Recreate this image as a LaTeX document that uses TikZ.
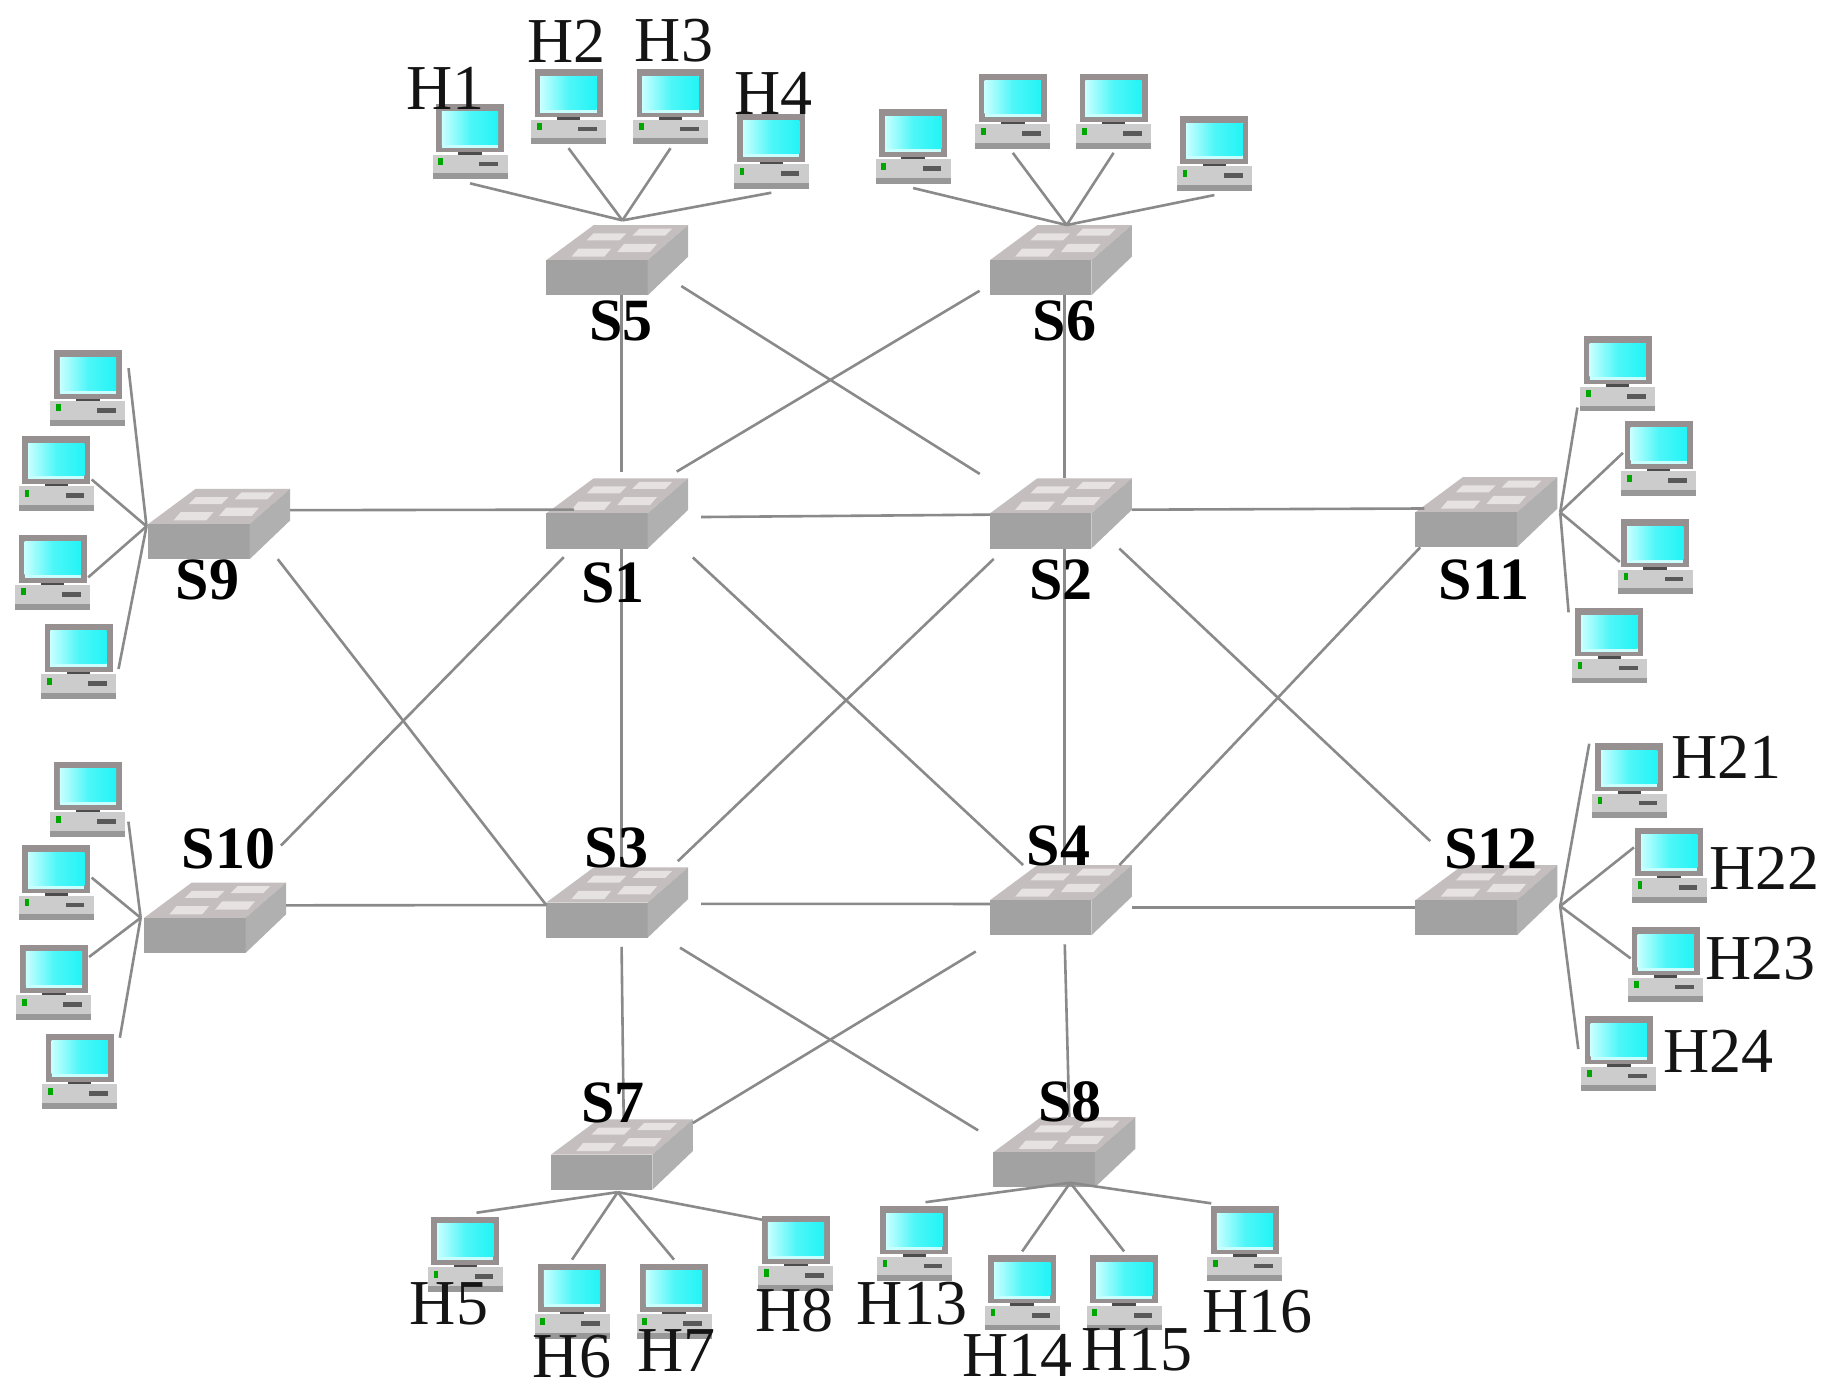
\documentclass[tikz,border=0pt]{standalone}
\usepackage{fontspec}
\setmainfont{Liberation Serif}
\definecolor{swfront}{HTML}{A2A2A2}
\definecolor{swside}{HTML}{B0B0B0}
\definecolor{swtop}{HTML}{C4BEBE}
\definecolor{swpatch}{HTML}{E6E2E2}
\definecolor{hframe}{HTML}{969090}
\definecolor{hbase}{HTML}{CCCCCC}
\definecolor{hshadow}{HTML}{989898}
\definecolor{hscreen}{HTML}{22F4F6}
\definecolor{hlight}{HTML}{C8FFFF}
\definecolor{linkc}{HTML}{8A8A8A}
\tikzset{
  linkline/.style={draw=linkc,line width=2.6pt},
  sidelink/.style={linkline,shorten >=-8pt},
  hostbox/.style={minimum width=64pt*1.1722,minimum height=64pt*1.1722,inner sep=0pt,outer sep=4pt},
  switchbox/.style={minimum width=121pt*1.1722,minimum height=60pt*1.1722,inner sep=0pt,outer sep=0pt},
  hostlabel/.style={inner sep=0pt,text=black!92,font=\fontsize{64}{64}\selectfont},
  switchlabel/.style={inner sep=0pt,text=black,font=\fontsize{60}{60}\selectfont\bfseries},
}
\newcommand{\hostat}[3]{%
  \node[hostbox] (#1) at (#2,#3) {};
  \begin{scope}[shift={(#2,#3)}]
    \fill[hframe] (-29,-32) rectangle (29,9);
    \fill[hlight] (-24,-26) rectangle (24,5);
    \shade[left color=hlight,right color=hscreen,middle color=hscreen!80!white] (-24,-26) rectangle (24,2);
    \fill[black!70] (-10,9) rectangle (10,12);
    \fill[hbase] (-32,11) rectangle (32,32);
    \fill[hshadow] (-32,27) rectangle (32,32);
    \fill[green!65!black] (-27,14) rectangle (-23,20);
    \fill[black!65] (8,17) rectangle (24,21);
  \end{scope}}
\newcommand{\switchat}[3]{%
  \node[switchbox] (#1) at (#2,#3) {};
  \begin{scope}[shift={(#2,#3)}]
    \fill[swtop] (-60.5,0) -- (-20,-30) -- (60.5,-30) -- (26,0) -- cycle;
    \fill[swfront] (-60.5,0) rectangle (26,30);
    \fill[swside] (26,0) -- (60.5,-30) -- (60.5,-3) -- (26,30) -- cycle;
    \fill[swpatch] (-39,-3) -- (-33,-10) -- (-5,-10) -- (-11,-3) -- cycle;
    \fill[swpatch] (0,-7) -- (6,-14) -- (34,-14) -- (28,-7) -- cycle;
    \fill[swpatch] (-26,-17) -- (-20,-23) -- (8,-23) -- (2,-17) -- cycle;
    \fill[swpatch] (13,-21) -- (19,-27) -- (47,-27) -- (41,-21) -- cycle;
  \end{scope}}
\newcommand{\swlink}[6]{%
  \draw[linkline,shorten <=#3pt,shorten >=#6pt] (#1.#2) -- (#4.#5);}
\begin{document}
\begin{tikzpicture}[x=1.1722pt,y=-1.1722pt]
\useasboundingbox (0,0) rectangle (1568,1193);
\fill[white] (0,0) rectangle (1568,1193);
% switches
\switchat{S5}{526.5}{222}
\switchat{S6}{905}{222}
\switchat{S1}{526.5}{438}
\switchat{S2}{905}{438}
\switchat{S3}{526.5}{770}
\switchat{S4}{905}{768}
\switchat{S9}{187}{447}
\switchat{S10}{183.5}{783}
\switchat{S11}{1268}{437}
\switchat{S12}{1268}{768}
\switchat{S7}{530.5}{985}
\switchat{S8}{908}{983}
% hosts
\hostat{H1}{401}{121}\hostat{H2}{485}{91}\hostat{H3}{572}{91}\hostat{H4}{658}{129}
\hostat{A1}{779}{125}\hostat{A2}{864}{95}\hostat{A3}{950}{95}\hostat{A4}{1036}{131}
\hostat{B1}{75}{331}\hostat{B2}{48}{404}\hostat{B3}{45}{488}\hostat{B4}{67}{564}
\hostat{C1}{75}{682}\hostat{C2}{48}{753}\hostat{C3}{46}{838}\hostat{C4}{68}{914}
\hostat{D1}{1380}{319}\hostat{D2}{1415}{391}\hostat{D3}{1412}{475}\hostat{D4}{1373}{551}
\hostat{H21}{1390}{666}\hostat{H22}{1424}{738}\hostat{H23}{1421}{823}\hostat{H24}{1381}{899}
\hostat{H5}{397}{1070}\hostat{H6}{488}{1110}\hostat{H7}{575}{1110}\hostat{H8}{679}{1069}
\hostat{H13}{780}{1061}\hostat{H14}{872}{1103}\hostat{H15}{959}{1103}\hostat{H16}{1062}{1061}
% hubs
\coordinate (hub5) at (531,188);
\coordinate (hub6) at (910,192);
\coordinate (hub9) at (125,449);
\coordinate (hub10) at (120,783);
\coordinate (hub11) at (1331,437);
\coordinate (hub12) at (1331,773);
\coordinate (hub7) at (527,1017);
\coordinate (hub8) at (913,1009);
% host links
\foreach \h in {H1,H2,H3,H4} \draw[linkline] (hub5) -- (\h.south);
\foreach \h in {A1,A2,A3,A4} \draw[linkline] (hub6) -- (\h.south);
\draw[sidelink] (hub9) -- (B1.16);
\draw[sidelink] (hub9) -- (B2.-15);
\draw[sidelink] (hub9) -- (B3.east);
\draw[sidelink] (hub9) -- (B4.east);
\draw[sidelink] (hub10) -- (C1.-36);
\draw[sidelink] (hub10) -- (C2.east);
\draw[sidelink] (hub10) -- (C3.36);
\draw[sidelink] (hub10) -- (C4.north east);
\draw[sidelink] (hub11) -- (D1.south west);
\draw[sidelink] (hub11) -- (D2.west);
\draw[sidelink] (hub11) -- (D3.west);
\draw[sidelink] (hub11) -- (D4.north west);
\draw[sidelink] (hub12) -- (H21.145);
\draw[sidelink] (hub12) -- (H22.163);
\draw[sidelink] (hub12) -- (H23.165);
\draw[sidelink] (hub12) -- (H24.163);
\draw[linkline] (hub7) -- (H5.75);
\draw[linkline] (hub7) -- (H6.north);
\draw[linkline] (hub7) -- (H7.north);
\draw[sidelink] (hub7) -- (H8.140);
\draw[linkline] (hub8) -- (H13.75);
\draw[linkline] (hub8) -- (H14.north);
\draw[linkline] (hub8) -- (H15.north);
\draw[sidelink] (hub8) -- (H16.north west);
% switch links
\swlink{S5}{-83}{0}{S1}{83}{6}
\swlink{S6}{-84}{0}{S2}{84}{0}
\swlink{S5}{-23}{-8}{S2}{155}{12}
\swlink{S6}{-161}{12}{S1}{36}{13}
\swlink{S9}{11}{0}{S1}{177}{-28}
\swlink{S1}{-3}{13}{S2}{-179}{0}
\swlink{S2}{3}{0}{S11}{177.5}{-9}
\swlink{S9}{-31}{0}{S3}{-178}{0}
\swlink{S10}{50}{52}{S1}{-142}{12}
\swlink{S1}{-83}{0}{S3}{83}{0}
\swlink{S1}{-28}{13}{S4}{137}{0}
\swlink{S2}{-148}{15}{S3}{33}{9}
\swlink{S2}{-84}{0}{S4}{84}{0}
\swlink{S2}{-31}{0}{S12}{131}{35}
\swlink{S11}{-152}{0}{S4}{31}{0}
\swlink{S10}{10}{0}{S3}{-178}{0}
\swlink{S3}{-1.6}{13}{S4}{-177}{0}
\swlink{S4}{-6}{0}{S12}{-174}{0}
\swlink{S3}{-83}{9}{S7}{87}{0}
\swlink{S4}{-84}{9}{S8}{82}{0}
\swlink{S3}{-37}{19}{S8}{170}{18}
\swlink{S4}{-149}{31}{S7}{24}{0}
% switch labels
\node[switchlabel] (LS5) at (530,274) {S5};
\node[switchlabel] (LS6) at (908,274) {S6};
\node[switchlabel] (LS1) at (523,497) {S1};
\node[switchlabel] (LS2) at (905,495) {S2};
\node[switchlabel] (LS3) at (526,723) {S3};
\node[switchlabel] (LS4) at (903,722) {S4};
\node[switchlabel] (LS9) at (177,495) {S9};
\node[switchlabel] (LS10) at (195,724) {S10};
\node[switchlabel] (LS11) at (1266,495) {S11};
\node[switchlabel] (LS12) at (1272,724) {S12};
\node[switchlabel] (LS7) at (523,941) {S7};
\node[switchlabel] (LS8) at (913,940) {S8};
% host labels
\node[hostlabel] (LH1) at (380,75) {H1};
\node[hostlabel] (LH2) at (483,35) {H2};
\node[hostlabel] (LH3) at (575,35) {H3};
\node[hostlabel] (LH4) at (660,80) {H4};
\node[hostlabel] (LH21) at (1473,646) {H21};
\node[hostlabel] (LH22) at (1505,741) {H22};
\node[hostlabel] (LH23) at (1502,818) {H23};
\node[hostlabel] (LH24) at (1466,897) {H24};
\node[hostlabel] (LH5) at (383,1112) {H5};
\node[hostlabel] (LH6) at (488,1157) {H6};
\node[hostlabel] (LH7) at (577,1152) {H7};
\node[hostlabel] (LH8) at (678,1118) {H8};
\node[hostlabel] (LH13) at (778,1112) {H13};
\node[hostlabel] (LH14) at (868,1156) {H14};
\node[hostlabel] (LH15) at (970,1151) {H15};
\node[hostlabel] (LH16) at (1073,1119) {H16};
\end{tikzpicture}
\end{document}
